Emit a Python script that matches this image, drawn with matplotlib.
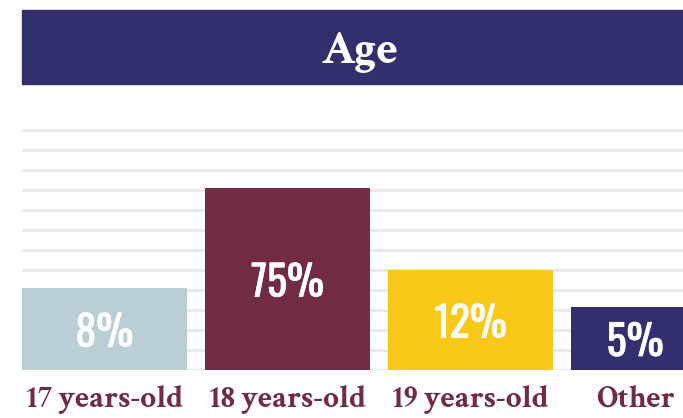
import matplotlib
matplotlib.use("Agg")
import matplotlib.pyplot as plt
import matplotlib.patheffects as pe
from matplotlib.patches import Rectangle

# ---- data ----
title = "Age"
categories = ["17 years-old", "18 years-old", "19 years-old", "Other"]
pct_labels = ["8%", "75%", "12%", "5%"]
bar_heights = [4.1, 9.1, 5.0, 3.15]          # in gridline units as drawn
grid_levels = list(range(0, 13))
colors = ["#b9ced5", "#722b40", "#f9c818", "#312f6e"]

NAVY = "#312f6e"
MAROON = "#722b40"
SERIF = ["Crimson Text", "DejaVu Serif"]
COND = ["Oswald", "DejaVu Sans"]
W, H = 683, 418

fig = plt.figure(figsize=(W / 100, H / 100), dpi=100)

# title banner
fig.patches.append(Rectangle((22 / W, (H - 84) / H), 1 - 22 / W, 74 / H,
                             transform=fig.transFigure, color=NAVY, zorder=0))
fig.text(360 / W, (H - 63) / H, title, ha="center", va="baseline",
         color="white", fontsize=34, fontweight="bold", family=SERIF)

ax = fig.add_axes([22 / W, (H - 370) / H, 1 - 22 / W, 245 / H])
ax.set_xlim(-0.4508, 3.161)
ax.set_ylim(0, 12.25)
for g in grid_levels:
    ax.axhline(g, color="#e9eaeb", lw=2.3, zorder=0)

x = list(range(len(categories)))
ax.bar(x, bar_heights, width=0.9016, color=colors, zorder=2, linewidth=0)

label_x = [0, 1, 2, 2.9]
for lx, h, lab, cat in zip(label_x, bar_heights, pct_labels, categories):
    ax.text(lx, h / 2 - 0.2, lab, ha="center", va="center", color="white",
            fontsize=30, fontweight="bold", family=COND, zorder=3,
            path_effects=[pe.withStroke(linewidth=0.5, foreground="white")])
    ax.text(lx, -1.85, cat, ha="center", va="baseline", color=MAROON,
            fontsize=22.5, fontweight="bold", family=SERIF, clip_on=False)

ax.axis("off")
fig.savefig("out.png", dpi=100)
